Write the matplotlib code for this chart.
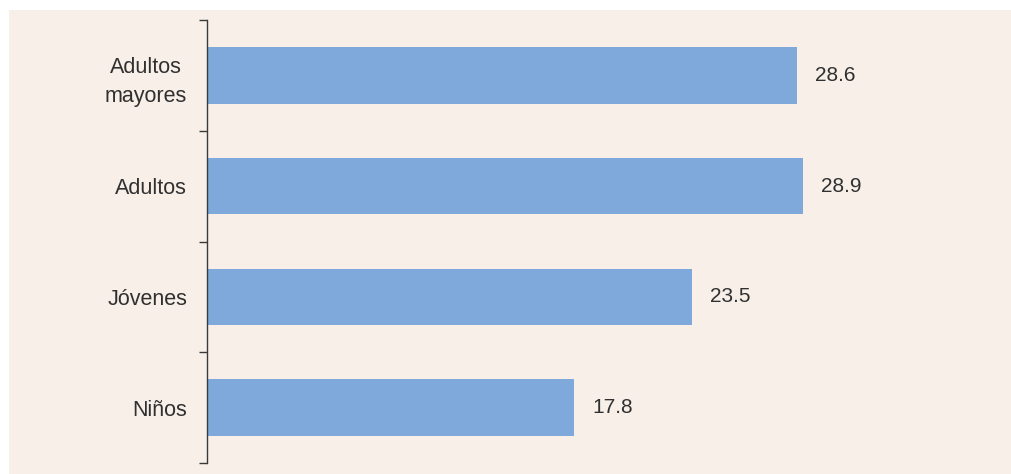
import matplotlib
matplotlib.use("Agg")
import matplotlib.pyplot as plt
from matplotlib.patches import Rectangle
from matplotlib.transforms import ScaledTranslation

categories = ["Adultos\nmayores", "Adultos", "Jóvenes", "Niños"]
values = [28.6, 28.9, 23.5, 17.8]

plt.rcParams['font.family'] = ['Liberation Sans', 'DejaVu Sans']

W, H = 1012, 474
fig = plt.figure(figsize=(W / 100, H / 100), dpi=100, facecolor="white")
bg = "#f7efe8"
fig.patches.append(Rectangle((9 / W, 0), 1 - 9 / W, 1 - 10 / H,
                             transform=fig.transFigure, facecolor=bg,
                             edgecolor="none", zorder=-10))

left = 207 / W
right = 1000 / W
top = 1 - 20 / H
bottom = 1 - 463 / H
ax = fig.add_axes([left, bottom, right - left, top - bottom])
ax.set_facecolor("none")
ax.set_zorder(5)

pos = list(range(len(categories)))
ax.barh(pos, values, height=0.51, color="#7fa9db", edgecolor="none")

scale = (803 - 207) / 28.9
ax.set_xlim(0, (1000 - 207) / scale)
ax.set_ylim(len(categories) - 0.5, -0.5)

for p, v in zip(pos, values):
    ax.text(v + 18 / scale, p, f"{v:.1f}", va="center", ha="left",
            fontsize=15, color="#303030")

for s in ["top", "right", "bottom"]:
    ax.spines[s].set_visible(False)
ax.spines["left"].set_color("#3a3a3a")
ax.spines["left"].set_linewidth(1.0)

ax.set_xticks([])
ax.set_yticks([p - 0.5 for p in pos] + [len(categories) - 0.5])
ax.set_yticklabels([])
ax.tick_params(axis="y", which="major", length=6, width=1.0, color="#3a3a3a", direction="out")
ax.set_yticks(pos, minor=True)
ax.set_yticklabels(categories, minor=True, fontsize=15.5, color="#303030",
                   linespacing=1.5)
ax.tick_params(axis="y", which="minor", length=0, pad=0)
for lbl in ax.get_yticklabels(minor=True):
    lbl.set_ha("right")
    lbl.set_multialignment("center")
    lbl.set_transform(lbl.get_transform() + ScaledTranslation(-20 / 100, 0, fig.dpi_scale_trans))

fig.savefig("out.png", dpi=100, facecolor="white")
